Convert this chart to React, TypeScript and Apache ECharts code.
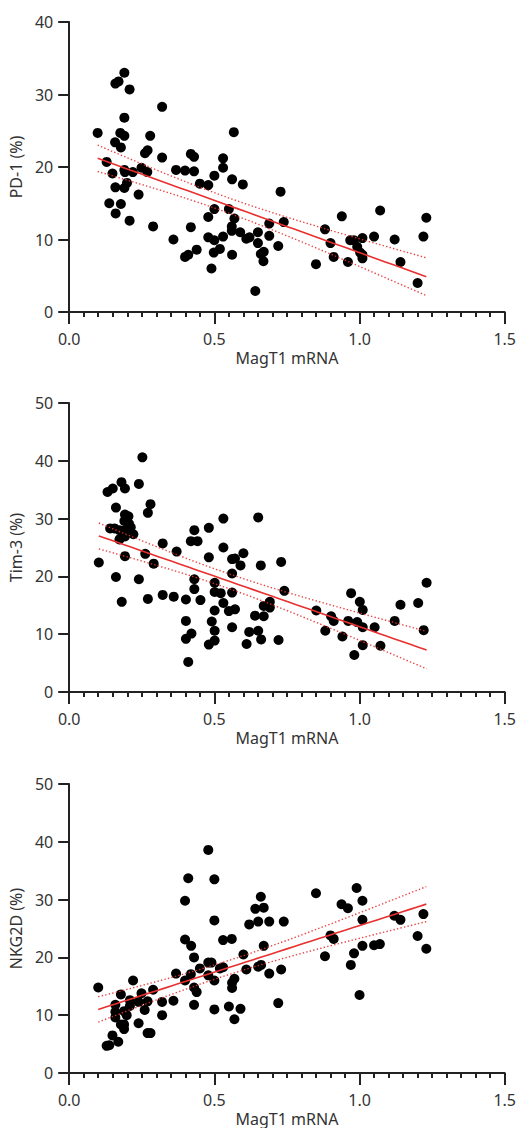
import React, { useEffect, useRef } from "react";
import * as echarts from "echarts";

const xTickValues = [0, 0.5, 1.0, 1.5];
const yMaxes = [40, 50, 50];
const yNames = ["PD-1 (%)", "Tim-3 (%)", "NKG2D (%)"];
const xName = "MagT1 mRNA";

const pd1Points = [
  [0.098, 24.7], [0.129, 20.7], [0.149, 19.1], [0.138, 15.0], [0.160, 13.6], [0.159, 17.2], [0.158, 23.4],
  [0.159, 31.5], [0.170, 31.8], [0.190, 33.0], [0.208, 30.7], [0.190, 26.8], [0.176, 24.7], [0.190, 24.3],
  [0.178, 22.7], [0.190, 19.6], [0.192, 19.3], [0.219, 19.3], [0.199, 17.8], [0.190, 17.1], [0.178, 14.9],
  [0.208, 12.6], [0.239, 16.2], [0.249, 19.9], [0.269, 19.3], [0.261, 21.9], [0.270, 22.3], [0.279, 24.3],
  [0.289, 11.8], [0.320, 28.3], [0.320, 21.3], [0.359, 10.0], [0.368, 19.6], [0.399, 19.5], [0.399, 7.6],
  [0.410, 7.9], [0.419, 21.8], [0.430, 21.4], [0.430, 19.4], [0.419, 11.7], [0.439, 8.6], [0.450, 17.7],
  [0.479, 17.5], [0.479, 13.1], [0.479, 10.3], [0.490, 6.0], [0.500, 18.8], [0.500, 14.2], [0.500, 9.9],
  [0.498, 8.2], [0.519, 8.7], [0.530, 21.2], [0.530, 19.9], [0.530, 10.4], [0.550, 14.2], [0.561, 18.3],
  [0.567, 24.8], [0.569, 12.9], [0.560, 11.8], [0.560, 11.2], [0.561, 7.9], [0.589, 11.0], [0.598, 17.6],
  [0.610, 10.1], [0.621, 10.3], [0.641, 2.9], [0.650, 11.0], [0.650, 9.5], [0.660, 8.0], [0.670, 8.3],
  [0.669, 7.0], [0.689, 12.2], [0.689, 10.5], [0.720, 9.1], [0.728, 16.6], [0.739, 12.4], [0.850, 6.6],
  [0.881, 11.4], [0.900, 9.5], [0.911, 7.6], [0.939, 13.2], [0.960, 6.9], [0.968, 9.9], [0.981, 9.9],
  [0.992, 9.0], [1.002, 8.2], [1.010, 7.4], [1.010, 7.9], [1.010, 10.2], [1.050, 10.4], [1.071, 14.0],
  [1.121, 10.0], [1.141, 6.9], [1.200, 4.0], [1.220, 10.4], [1.230, 13.0],
];

const tim3Points = [
  [0.102, 22.4], [0.132, 34.6], [0.150, 35.2], [0.180, 36.3], [0.192, 35.2], [0.252, 40.6], [0.240, 36.0],
  [0.161, 31.9], [0.192, 30.7], [0.204, 30.4], [0.141, 28.3], [0.156, 28.3], [0.173, 28.0], [0.190, 29.6],
  [0.206, 29.1], [0.212, 28.5], [0.192, 28.0], [0.173, 26.4], [0.192, 26.9], [0.221, 27.3], [0.192, 23.5],
  [0.271, 31.0], [0.280, 32.5], [0.262, 23.9], [0.291, 22.2], [0.161, 19.9], [0.181, 15.6], [0.240, 19.5],
  [0.271, 16.1], [0.322, 25.7], [0.322, 16.8], [0.360, 16.5], [0.370, 24.3], [0.402, 16.0], [0.402, 12.3],
  [0.402, 9.2], [0.421, 10.1], [0.410, 5.2], [0.419, 26.1], [0.442, 26.1], [0.431, 28.0], [0.431, 19.5],
  [0.431, 17.8], [0.452, 15.9], [0.481, 28.4], [0.481, 23.3], [0.481, 8.2], [0.491, 12.2], [0.501, 18.9],
  [0.501, 17.3], [0.501, 14.1], [0.501, 10.6], [0.501, 8.9], [0.522, 17.1], [0.531, 30.0], [0.531, 25.0],
  [0.531, 15.4], [0.550, 14.0], [0.561, 20.5], [0.561, 23.0], [0.561, 17.2], [0.561, 11.2], [0.571, 23.1],
  [0.571, 14.3], [0.590, 21.9], [0.600, 24.0], [0.611, 8.3], [0.620, 10.4], [0.640, 13.2], [0.651, 30.2],
  [0.651, 10.6], [0.660, 21.9], [0.661, 9.1], [0.670, 14.9], [0.670, 13.1], [0.691, 15.6], [0.691, 14.6],
  [0.721, 9.0], [0.730, 22.5], [0.741, 17.5], [0.851, 14.1], [0.882, 10.6], [0.902, 13.1], [0.911, 12.3],
  [0.941, 9.6], [0.961, 12.3], [0.971, 17.1], [0.982, 6.4], [0.992, 12.1], [1.001, 15.6], [1.011, 14.2],
  [1.011, 11.2], [1.011, 8.1], [1.052, 11.2], [1.072, 8.0], [1.121, 12.3], [1.141, 15.1], [1.202, 15.4],
  [1.221, 10.7], [1.231, 18.9],
];

const nkg2dPoints = [
  [0.100, 14.8], [0.129, 4.7], [0.138, 4.8], [0.149, 6.5], [0.169, 5.4], [0.159, 11.8], [0.159, 10.6],
  [0.159, 9.6], [0.178, 13.6], [0.178, 8.4], [0.189, 7.6], [0.189, 8.4], [0.189, 10.7], [0.198, 10.0],
  [0.209, 12.6], [0.209, 11.6], [0.220, 16.0], [0.239, 8.6], [0.239, 12.3], [0.249, 13.8], [0.260, 10.9],
  [0.270, 12.4], [0.270, 6.9], [0.280, 6.9], [0.289, 14.4], [0.320, 12.3], [0.320, 10.0], [0.359, 12.5],
  [0.368, 17.2], [0.399, 29.8], [0.410, 33.7], [0.399, 23.1], [0.420, 22.0], [0.399, 16.0], [0.419, 17.1],
  [0.430, 20.0], [0.430, 14.8], [0.439, 14.0], [0.430, 11.8], [0.450, 18.1], [0.479, 38.6], [0.479, 19.1],
  [0.490, 19.1], [0.479, 16.9], [0.500, 33.5], [0.500, 26.4], [0.500, 16.0], [0.500, 11.0], [0.519, 18.1],
  [0.530, 23.0], [0.530, 18.3], [0.550, 11.5], [0.560, 23.2], [0.561, 14.7], [0.561, 15.6], [0.569, 16.3],
  [0.569, 9.3], [0.590, 11.1], [0.600, 20.5], [0.610, 17.9], [0.620, 25.7], [0.641, 28.4], [0.651, 26.2],
  [0.660, 30.5], [0.670, 28.6], [0.670, 22.0], [0.651, 18.4], [0.661, 18.7], [0.689, 26.2], [0.689, 17.2],
  [0.720, 12.1], [0.730, 17.9], [0.739, 26.2], [0.850, 31.1], [0.881, 20.2], [0.900, 23.8], [0.911, 23.2],
  [0.938, 29.2], [0.960, 28.5], [0.970, 18.7], [0.981, 20.7], [0.990, 32.0], [1.010, 29.8], [1.010, 26.5],
  [1.010, 22.0], [1.000, 13.5], [1.050, 22.1], [1.070, 22.3], [1.120, 27.2], [1.141, 26.5], [1.200, 23.7],
  [1.220, 27.5], [1.230, 21.5],
];

const allPoints = [pd1Points, tim3Points, nkg2dPoints];

// Linear regression with 95% confidence band of the fitted mean
function regression(points: number[][]) {
  const n = points.length;
  let mx = 0, my = 0;
  points.forEach(([x, y]) => { mx += x; my += y; });
  mx /= n; my /= n;
  let sxx = 0, sxy = 0;
  points.forEach(([x, y]) => { sxx += (x - mx) ** 2; sxy += (x - mx) * (y - my); });
  const b = sxy / sxx;
  const a = my - b * mx;
  let sse = 0;
  points.forEach(([x, y]) => { sse += (y - a - b * x) ** 2; });
  const s = Math.sqrt(sse / (n - 2));
  const t = 1.986;
  const xs = points.map((p) => p[0]);
  const xmin = Math.min(...xs);
  const xmax = Math.max(...xs);
  const steps = 40;
  const fitLine: number[][] = [];
  const upper: number[][] = [];
  const lower: number[][] = [];
  for (let i = 0; i <= steps; i++) {
    const x = xmin + ((xmax - xmin) * i) / steps;
    const yh = a + b * x;
    const se = s * Math.sqrt(1 / n + (x - mx) ** 2 / sxx);
    fitLine.push([x, yh]);
    upper.push([x, yh + t * se]);
    lower.push([x, yh - t * se]);
  }
  return { fitLine, upper, lower };
}

const FONT = "'Noto Sans', sans-serif";
const AXIS_COLOR = "#222";
const TEXT_COLOR = "#333";
const RED = "#e8302f";

const gridTops = [22, 403, 784];
const gridHeights = [290, 289, 289];

export default function App() {
  const ref = useRef<HTMLDivElement>(null);

  useEffect(() => {
    document.body.style.margin = "0";
    if (!ref.current) return;
    const chart = echarts.init(ref.current, undefined, { renderer: "svg" });

    const grids = gridTops.map((top, i) => ({
      left: 69,
      width: 437,
      top,
      height: gridHeights[i],
      containLabel: false,
    }));

    const xAxes = gridTops.map((_, i) => ({
      type: "value",
      gridIndex: i,
      min: xTickValues[0],
      max: xTickValues[xTickValues.length - 1],
      interval: 0.5,
      name: xName,
      nameLocation: "middle",
      nameGap: 38,
      nameTextStyle: { fontFamily: FONT, fontSize: 16, color: TEXT_COLOR },
      axisLine: { show: true, onZero: false, lineStyle: { color: AXIS_COLOR, width: 2 } },
      axisTick: { show: true, length: 12, lineStyle: { color: AXIS_COLOR, width: 2 } },
      minorTick: { show: true, splitNumber: 10, length: 5, lineStyle: { color: AXIS_COLOR, width: 2 } },
      splitLine: { show: false },
      minorSplitLine: { show: false },
      axisLabel: {
        fontFamily: FONT,
        fontSize: 16,
        color: TEXT_COLOR,
        margin: 19,
        formatter: (v: number) => v.toFixed(1),
      },
    }));

    const yAxes = gridTops.map((_, i) => ({
      type: "value",
      gridIndex: i,
      min: 0,
      max: yMaxes[i],
      interval: 10,
      name: yNames[i],
      nameLocation: "middle",
      nameGap: 43,
      nameTextStyle: { fontFamily: FONT, fontSize: 16, color: TEXT_COLOR },
      axisLine: { show: true, onZero: false, lineStyle: { color: AXIS_COLOR, width: 2 } },
      axisTick: { show: true, length: 11, lineStyle: { color: AXIS_COLOR, width: 2 } },
      splitLine: { show: false },
      axisLabel: { fontFamily: FONT, fontSize: 16, color: TEXT_COLOR, margin: 16 },
    }));

    const series: any[] = [];
    allPoints.forEach((pts, i) => {
      const { fitLine, upper, lower } = regression(pts);
      series.push({
        type: "scatter",
        xAxisIndex: i,
        yAxisIndex: i,
        data: pts,
        symbolSize: 10,
        itemStyle: { color: "#000", opacity: 1 },
        z: 3,
      });
      series.push({
        type: "line",
        xAxisIndex: i,
        yAxisIndex: i,
        data: fitLine,
        showSymbol: false,
        symbol: "none",
        lineStyle: { color: RED, width: 1.6 },
        z: 4,
      });
      [upper, lower].forEach((band) => {
        series.push({
          type: "line",
          xAxisIndex: i,
          yAxisIndex: i,
          data: band,
          showSymbol: false,
          symbol: "none",
          lineStyle: { color: RED, width: 1.4, type: [1.4, 2.2], opacity: 0.9 },
          z: 4,
        });
      });
    });

    chart.setOption({
      animation: false,
      backgroundColor: "#fff",
      grid: grids,
      xAxis: xAxes,
      yAxis: yAxes,
      series,
    });

    return () => chart.dispose();
  }, []);

  return <div ref={ref} style={{ width: 519, height: 1128 }} />;
}
